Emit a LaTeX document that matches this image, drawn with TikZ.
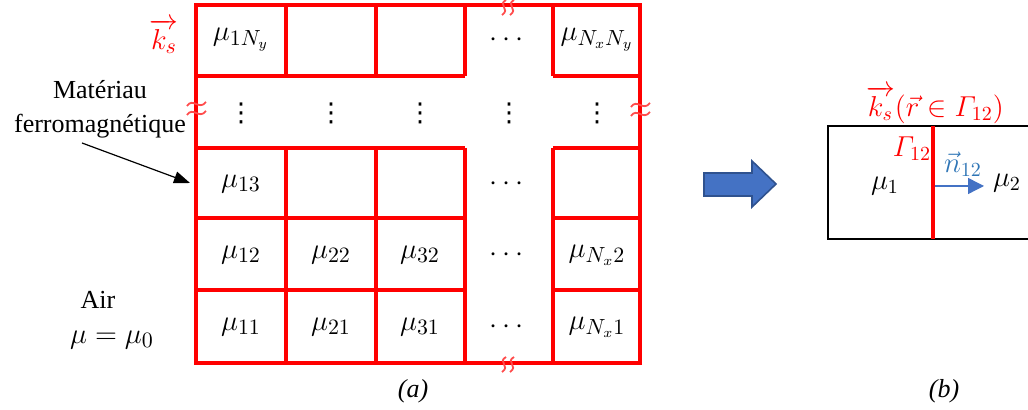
\documentclass[tikz,border=0pt]{standalone}
\usepackage{amsmath}
\usepackage{fontspec}
\setmainfont{Liberation Serif}
\newfontfamily\dvsans{DejaVu Sans}
\usetikzlibrary{arrows.meta}
\definecolor{pblue}{HTML}{4472C4}
\definecolor{pbluedark}{HTML}{2F528F}
\definecolor{nblue}{HTML}{2E75B6}
\tikzset{
  grid/.style={draw=red, line width=2pt},
  brk/.style={draw=red!70, line width=0.9pt},
  cell/.style={font=\fontsize{15}{18}\selectfont, inner sep=0pt},
  vdt/.style={font=\dvsans\fontsize{13}{16}\selectfont, inner sep=0pt},
  lbl/.style={font=\fontsize{13}{16}\selectfont, inner sep=0pt, align=center},
  mlbl/.style={font=\fontsize{14}{17}\selectfont, inner sep=0pt},
}
\begin{document}
\begin{tikzpicture}[x=0.5pt,y=-0.5pt]
\useasboundingbox (0,0) rectangle (1028,410);
% ---- grid (a)
\draw[grid] (196,5) rectangle (640,363);
\foreach \y in {76,148,218,290}{
  \draw[grid] (196,\y) -- (465,\y);
  \draw[grid] (553,\y) -- (640,\y);
}
\foreach \x in {286,376,465,553}{
  \draw[grid] (\x,5) -- (\x,76);
  \draw[grid] (\x,148) -- (\x,363);
}
% break marks
\foreach \yy in {104,113}{
  \draw[brk] (187,\yy+2) .. controls (193,\yy-7) and (199,\yy+7) .. (206,\yy-2);
  \draw[brk] (631,\yy+3) .. controls (637,\yy-6) and (643,\yy+8) .. (650,\yy-1);
}
\foreach \xx in {504,512}{
  \draw[brk] (\xx+2,0) .. controls (\xx-7,5) and (\xx+7,9) .. (\xx-2,15);
  \draw[brk] (\xx+2,357) .. controls (\xx-7,362) and (\xx+7,366) .. (\xx-2,372);
}
% cell labels
\node[cell] (c1Ny) at (241,40) {$\mu_{1N_y}$};
\node[cell] (cdt) at (509,40) {$\cdots$};
\node[cell] (cNN) at (597,40) {$\mu_{N_xN_y}$};
\foreach \x/\n in {241/a,331/b,420/c,509/d,597/e}{
  \node[vdt] (v\n) at (\x,113) {⋮};
}
\node[cell] (c13) at (241,184) {$\mu_{13}$};
\node[cell] (d3) at (509,184) {$\cdots$};
\node[cell] (c12) at (241,255) {$\mu_{12}$};
\node[cell] (c22) at (331,255) {$\mu_{22}$};
\node[cell] (c32) at (420,255) {$\mu_{32}$};
\node[cell] (d2) at (509,255) {$\cdots$};
\node[cell] (cN2) at (597,255) {$\mu_{N_x2}$};
\node[cell] (c11) at (241,327) {$\mu_{11}$};
\node[cell] (c21) at (331,327) {$\mu_{21}$};
\node[cell] (c31) at (420,327) {$\mu_{31}$};
\node[cell] (d1) at (509,327) {$\cdots$};
\node[cell] (cN1) at (597,327) {$\mu_{N_x1}$};
% side labels
\node[cell, text=red] (ks) at (164,36) {$\overrightarrow{k_s}$};
\node[lbl] (mat) at (100,109) {Matériau\\[1pt]ferromagnétique};
\coordinate (matend) at (190,183);
\draw[-{Triangle[length=8pt,width=6pt]}, line width=0.6pt] (82,143) -- (matend);
\node[lbl] (air) at (98,300) {Air};
\node[cell] (mu0) at (112,340) {$\mu=\mu_0$};
\node[lbl, font=\fontsize{13}{16}\selectfont\itshape] (la) at (413,391) {(a)};
\node[lbl, font=\fontsize{13}{16}\selectfont\itshape] (lb) at (944,391) {(b)};
% block arrow
\draw[fill=pblue, draw=pbluedark, line width=0.8pt]
  (704,173) -- (752,173) -- (752,161) -- (776,184) -- (752,207) -- (752,196) -- (704,196) -- cycle;
% ---- right diagram (b)
\draw[line width=0.9pt] (1030,126) -- (828,126) -- (828,239) -- (1030,239);
\draw[draw=red, line width=1.7pt] (933,126) -- (933,239);
\node[mlbl] (m1) at (885,186) {$\mu_1$};
\node[mlbl] (m2) at (1007,183) {$\mu_2$};
\node[mlbl, text=red] (G12) at (912,149) {$\varGamma_{12}$};
\node[mlbl, text=nblue] (n12) at (963,164) {$\vec{n}_{12}$};
\node[mlbl, text=red] (ksr) at (935,105) {$\overrightarrow{k_s}(\vec r\in\varGamma_{12})$};
\coordinate (ns) at (935,186);
\coordinate (ne) at (984,186);
\draw[draw=pblue, line width=0.7pt, -{Triangle[length=8pt,width=8pt]}] (ns) -- (ne);
\end{tikzpicture}
\end{document}
